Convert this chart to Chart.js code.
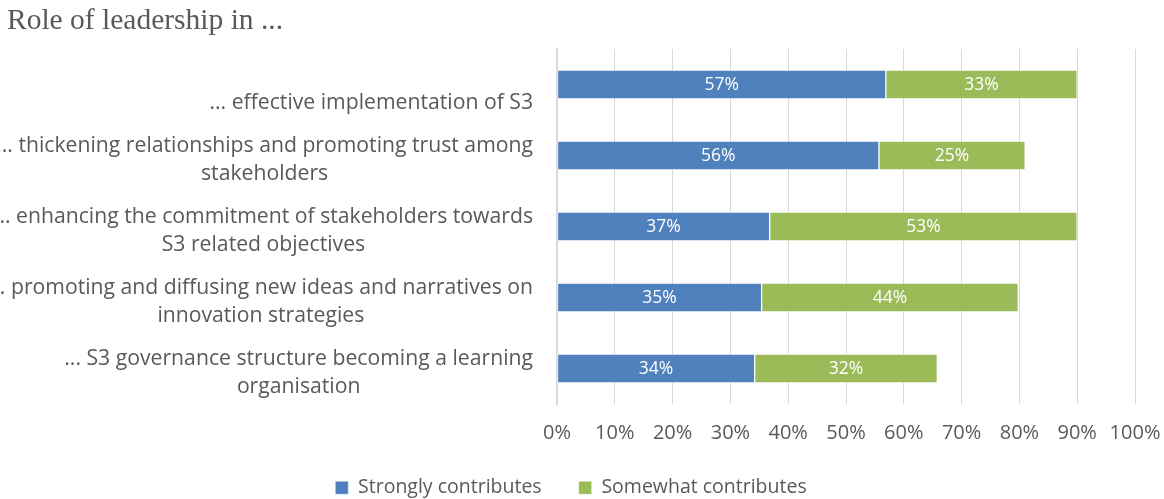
<!DOCTYPE html>
<html lang="en">
<head>
  <meta charset="UTF-8">
  <title>Role of leadership in ...</title>
  <script src="https://cdn.jsdelivr.net/npm/chart.js@4.4.1/dist/chart.umd.min.js"></script>
  <style>
    html, body {
      margin: 0;
      padding: 0;
      background: #fff;
      overflow: hidden;
    }
    .wrap {
      width: 1164px;
      height: 499px;
      position: relative;
    }
  </style>
</head>
<body>
  <div class="wrap">
    <canvas id="leadershipChart" width="1164" height="499"></canvas>
  </div>

  <script>
    // data
    const categories = [
      ["... effective implementation of S3"],
      ["... thickening relationships and promoting trust among", "stakeholders"],
      ["... enhancing the commitment of stakeholders towards", "S3 related objectives"],
      ["... promoting and diffusing new ideas and narratives on", "innovation strategies"],
      ["... S3 governance structure becoming a learning", "organisation"]
    ];
    const strongly = [56.9, 55.7, 36.8, 35.4, 34.2];
    const somewhat = [33.1, 25.3, 53.2, 44.4, 31.6];
    const seriesNames = ["Strongly contributes", "Somewhat contributes"];
    const xTicks = [0, 10, 20, 30, 40, 50, 60, 70, 80, 90, 100];

    const textColor = "#595959";
    const sansFont = "'Open Sans', 'Noto Sans', sans-serif";

    // category labels: block right aligned, lines centred, last line set low (like Excel)
    const categoryLabels = {
      id: "categoryLabels",
      afterDraw(chart) {
        const ctx = chart.ctx;
        const yScale = chart.scales.y;
        ctx.save();
        ctx.font = "21.2px " + sansFont;
        ctx.fillStyle = textColor;
        ctx.textAlign = "center";
        ctx.textBaseline = "middle";
        chart.data.labels.forEach((lines, i) => {
          const yc = yScale.getPixelForTick(i);
          const widest = Math.max(...lines.map(l => ctx.measureText(l).width));
          const xc = yScale.right - 24 - widest / 2;
          lines.forEach((line, j) => {
            const fromBottom = lines.length - 1 - j;
            ctx.fillText(line, xc, yc + 18 - fromBottom * 27.5);
          });
        });
        ctx.restore();
      }
    };

    // value labels in the middle of every segment
    const valueLabels = {
      id: "valueLabels",
      afterDatasetsDraw(chart) {
        const ctx = chart.ctx;
        ctx.save();
        ctx.font = "17.5px " + sansFont;
        ctx.fillStyle = "#ffffff";
        ctx.textAlign = "center";
        ctx.textBaseline = "middle";
        chart.data.datasets.forEach((ds, d) => {
          chart.getDatasetMeta(d).data.forEach((bar, i) => {
            const x = (bar.x + bar.base) / 2;
            ctx.fillText(Math.round(ds.data[i]) + "%", x, bar.y + 1);
          });
        });
        ctx.restore();
      }
    };

    const ctx = document.getElementById("leadershipChart").getContext("2d");
    new Chart(ctx, {
      type: "bar",
      data: {
        labels: categories,
        datasets: [
          {
            label: seriesNames[0],
            data: strongly,
            backgroundColor: "#4f81bd",
            borderColor: "rgba(255,255,255,0.45)",
            borderWidth: 1,
            borderSkipped: false
          },
          {
            label: seriesNames[1],
            data: somewhat,
            backgroundColor: "#9bbb59",
            borderColor: "rgba(255,255,255,0.45)",
            borderWidth: 1,
            borderSkipped: false
          }
        ]
      },
      options: {
        indexAxis: "y",
        responsive: false,
        animation: false,
        barThickness: 29,
        layout: {
          padding: { left: 7, right: 29, top: 0, bottom: 0 }
        },
        plugins: {
          title: {
            display: true,
            text: "Role of leadership in ...",
            align: "start",
            color: textColor,
            font: { family: "'Liberation Serif', 'DejaVu Serif', serif", size: 29.5, weight: "normal" },
            padding: { top: 4, bottom: 9.6 }
          },
          legend: {
            position: "bottom",
            maxHeight: 58,
            labels: {
              color: textColor,
              boxWidth: 13,
              boxHeight: 13,
              padding: 37,
              font: { family: sansFont, size: 19.5 }
            }
          },
          tooltip: { enabled: false }
        },
        scales: {
          x: {
            stacked: true,
            min: 0,
            max: 100,
            afterBuildTicks(scale) {
              scale.ticks = xTicks.map(v => ({ value: v }));
            },
            afterFit(scale) {
              scale.height = 37;
            },
            grid: {
              color: "#d9d9d9",
              lineWidth: 1,
              drawTicks: true,
              tickLength: 17,
              tickColor: "rgba(0,0,0,0)"
            },
            border: { display: false },
            ticks: {
              color: textColor,
              padding: 0,
              font: { family: sansFont, size: 20 },
              callback: v => v + "%"
            }
          },
          y: {
            stacked: true,
            afterFit(scale) {
              scale.width = 550;
            },
            grid: { display: false },
            border: { color: "#d9d9d9", width: 2 },
            ticks: { display: false }
          }
        }
      },
      plugins: [categoryLabels, valueLabels]
    });
  </script>
</body>
</html>
